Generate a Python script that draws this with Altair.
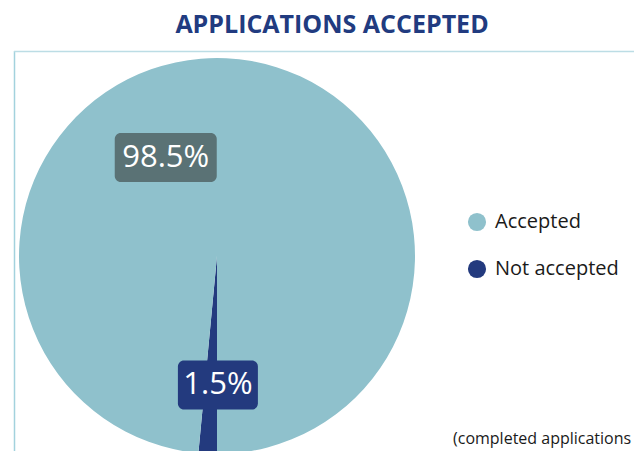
import math
import altair as alt
import pandas as pd

# ---- data ----
categories = ["Not accepted", "Accepted"]
values = [1.5, 98.5]
label_texts = ["1.5%", "98.5%"]
legend_order = ["Accepted", "Not accepted"]
colors = ["#8fc1cc", "#233a7e"]
title_text = "APPLICATIONS ACCEPTED"
note_text = "(completed applications"

# ---- layout ----
W, H = 634, 451
CX, CY, R = 217, 256, 198
label_angle = {"Not accepted": 179.6, "Accepted": 332.5}   # degrees, clockwise from top
label_radius = {"Not accepted": 129, "Accepted": 111}
box_w = {"Not accepted": 80, "Accepted": 102}
box_h = 49
box_color = {"Not accepted": "#233a7e", "Accepted": "#5a7275"}

df = pd.DataFrame({"category": categories, "value": values,
                   "rank": list(range(len(categories))), "label": label_texts})
df["lx"] = [CX + label_radius[c] * math.sin(math.radians(label_angle[c])) for c in categories]
df["ly"] = [CY - label_radius[c] * math.cos(math.radians(label_angle[c])) for c in categories]
df["x1"] = [df.lx[i] - box_w[c] / 2 for i, c in enumerate(categories)]
df["x2"] = [df.lx[i] + box_w[c] / 2 for i, c in enumerate(categories)]
df["y1"] = df["ly"] - box_h / 2
df["y2"] = df["ly"] + box_h / 2
df["boxcol"] = [box_color[c] for c in categories]

pie = alt.Chart(df).mark_arc(outerRadius=R, stroke=None).encode(
    theta=alt.Theta("value:Q", stack=True,
                    scale=alt.Scale(range=[math.pi, 3 * math.pi])),
    order=alt.Order("rank:Q"),
    color=alt.Color("category:N",
                    scale=alt.Scale(domain=legend_order, range=colors),
                    legend=alt.Legend(orient="none", legendX=467, legendY=212,
                                      title=None, symbolType="circle",
                                      symbolSize=330, symbolStrokeWidth=0,
                                      labelFont="Open Sans", labelFontSize=20,
                                      labelColor="#1a1a1a", rowPadding=27,
                                      labelOffset=8)),
    x=alt.value(CX), y=alt.value(CY),
)

boxes = alt.Chart(df).mark_rect(cornerRadius=6).encode(
    x=alt.X("x1:Q", scale=None), x2="x2:Q",
    y=alt.Y("y1:Q", scale=None), y2="y2:Q",
    color=alt.Color("boxcol:N", scale=None),
)

labels = alt.Chart(df).mark_text(font="Open Sans", fontSize=31, color="white",
                                 align="center", baseline="middle").encode(
    x=alt.X("lx:Q", scale=None), y=alt.Y("ly:Q", scale=None), text="label:N")

one = pd.DataFrame({"t": [title_text], "n": [note_text]})

title = alt.Chart(one).mark_text(font="Open Sans", fontSize=25, fontWeight="bold",
                                 color="#213b80", align="center",
                                 baseline="alphabetic").encode(
    x=alt.value(332), y=alt.value(33), text="t:N")

note = alt.Chart(one).mark_text(font="Open Sans", fontSize=16, color="#1a1a1a",
                                align="left", baseline="alphabetic").encode(
    x=alt.value(453), y=alt.value(444), text="n:N")

frame_left = alt.Chart(one).mark_rule(color="#a3d2dd", strokeWidth=1.5).encode(
    x=alt.value(14.5), y=alt.value(51), y2=alt.value(H))
frame_top = alt.Chart(one).mark_rule(color="#bcdde5", strokeWidth=1.5).encode(
    x=alt.value(14), x2=alt.value(W), y=alt.value(51.5))

chart = alt.layer(frame_left, frame_top, pie, boxes, labels, title, note).properties(
    width=W, height=H, padding=0, autosize=alt.AutoSizeParams(type="none"),
    background="white"
).configure_view(stroke=None)

chart.save("out.html", embed_options={"renderer": "svg", "actions": False})
